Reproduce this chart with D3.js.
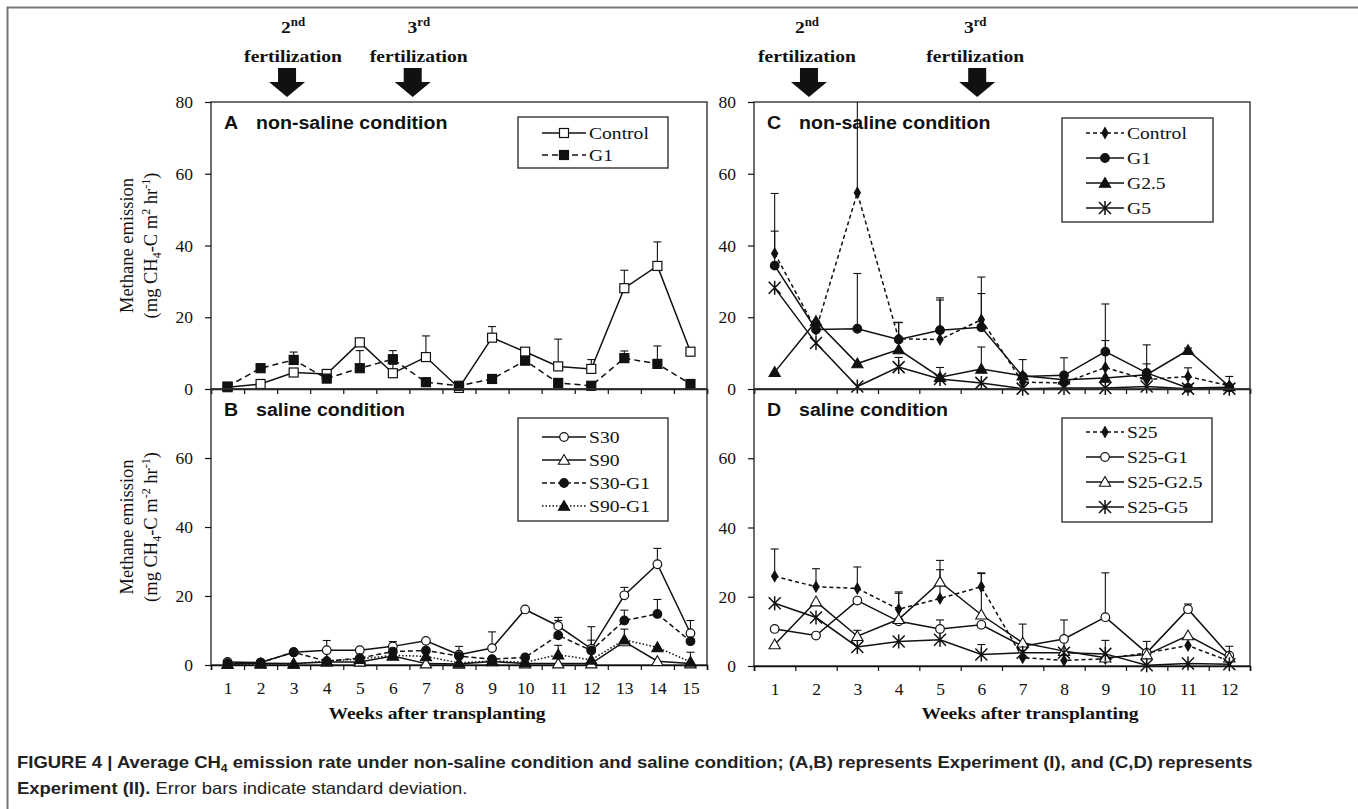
<!DOCTYPE html>
<html>
<head>
<meta charset="utf-8">
<script src="https://cdn.jsdelivr.net/npm/d3@7"></script>
<style>
  body { margin: 0; background: #fff; }
  svg { display: block; }
</style>
</head>
<body>
<svg id="fig" width="1358" height="809"></svg>
<script>
// ---- data ----
const weeksExp1 = [1, 2, 3, 4, 5, 6, 7, 8, 9, 10, 11, 12, 13, 14, 15];
const weeksExp2 = [1, 2, 3, 4, 5, 6, 7, 8, 9, 10, 11, 12];
const yTicksTop = [0, 20, 40, 60, 80];
const yTicksBottom = [0, 20, 40, 60];

// panel A, experiment I, non-saline
const aControl   = [0.5, 1.4, 4.6, 4.2, 13.0, 4.4, 8.9, 0.3, 14.3, 10.4, 6.3, 5.6, 28.1, 34.3, 10.4];
const aControlSd = [0, 0, 0.6, 0.5, 0.9, 2.5, 5.9, 0, 3.1, 0.5, 7.6, 2.6, 5.0, 6.7, 0.5];
const aG1        = [0.7, 5.8, 8.1, 2.9, 5.8, 8.3, 1.9, 0.9, 2.8, 7.9, 1.7, 0.9, 8.6, 7.0, 1.4];
const aG1Sd      = [0, 0, 2.2, 0, 4.9, 2.4, 0, 0, 0, 0.5, 0, 0, 2.0, 5.0, 0];

// panel B, experiment I, saline
const bS30     = [0.9, 0.7, 3.7, 4.3, 4.3, 5.4, 7.0, 3.0, 4.9, 16.1, 11.3, 4.7, 20.2, 29.2, 9.2];
const bS30Sd   = [0, 0, 0, 2.8, 0, 1.4, 0.4, 2.4, 4.7, 0.3, 2.5, 6.4, 2.3, 4.6, 3.7];
const bS90     = [0.3, 0.5, 0.4, 0.9, 0.9, 2.6, 0.4, 0.3, 1.0, 0.4, 0.4, 0.4, 6.8, 1.1, 0.4];
const bS90Sd   = [0, 0, 0, 0, 0, 0.6, 0, 0, 0, 0, 0, 0, 0, 0, 0];
const bS30G1   = [0.5, 0.7, 3.7, 1.1, 2.0, 3.9, 4.2, 2.6, 1.7, 2.2, 8.6, 4.2, 12.9, 14.8, 6.9];
const bS30G1Sd = [0, 0, 0, 0, 0, 0.8, 0.5, 0, 0, 0, 4.3, 3.0, 3.0, 4.2, 2.5];
const bS90G1   = [0.2, 0.3, 0.3, 1.2, 1.7, 2.8, 2.5, 0.6, 1.2, 0.8, 3.0, 1.5, 7.3, 5.1, 0.9];
const bS90G1Sd = [0, 0, 0, 0, 0, 0, 0, 0, 0, 0, 2.7, 0, 3.1, 0, 2.8];

// panel C, experiment II, non-saline
const cControl   = [37.8, 16.5, 54.7, 14.0, 13.8, 19.3, 1.9, 1.7, 6.0, 2.6, 3.5, 0.9];
const cControlSd = [16.7, 1.5, 30.0, 4.5, 11.0, 11.9, 0, 0, 7.5, 4.4, 2.4, 2.6];
const cG1        = [34.4, 16.6, 16.8, 13.8, 16.4, 17.2, 3.5, 3.8, 10.4, 4.5, 0.3, 0.5];
const cG1Sd      = [9.6, 2.3, 15.4, 4.8, 9.0, 9.4, 4.7, 4.9, 13.3, 7.8, 0, 0];
const cG25       = [4.7, 18.9, 7.1, 11.0, 3.3, 5.6, 3.7, 2.6, 3.1, 4.0, 10.8, 0.7];
const cG25Sd     = [0, 0, 0, 0, 0, 6.1, 0, 0, 0, 0, 0.6, 0];
const cG5        = [28.2, 12.8, 0.7, 6.1, 2.8, 1.7, 0.1, 0.3, 0.3, 0.7, 0.1, 0.1];
const cG5Sd      = [0, 0, 0, 2.7, 3.2, 0, 0, 0, 0, 0, 0, 0];

// panel D, experiment II, saline
const dS25      = [25.9, 22.9, 22.4, 16.4, 19.5, 22.9, 2.4, 1.6, 2.1, 3.8, 5.9, 1.4];
const dS25Sd    = [7.9, 5.2, 6.2, 5.0, 8.3, 4.0, 0, 0, 0, 3.3, 0, 0];
const dS25G1    = [10.7, 8.8, 18.9, 12.9, 10.7, 11.9, 5.7, 7.8, 14.1, 3.8, 16.4, 3.0];
const dS25G1Sd  = [0, 0, 0, 8.1, 2.6, 0, 6.4, 5.5, 12.8, 0, 1.5, 2.7];
const dS25G25   = [6.2, 18.6, 8.6, 13.5, 24.3, 14.8, 6.7, 4.3, 2.4, 3.3, 8.8, 2.4];
const dS25G25Sd = [0, 0, 1.7, 0, 6.2, 11.9, 0, 4.0, 5.0, 0, 0, 0];
const dS25G5    = [18.1, 14.0, 5.5, 7.1, 7.6, 3.3, 3.8, 3.8, 3.5, 0.2, 0.7, 0.5];
const dS25G5Sd  = [0, 0, 0, 0, 0, 2.9, 0, 0, 0, 3.2, 0, 0];

// fertilization arrows (week position) and their labels
const fertWeeksExp1 = [2.8, 6.6];
const fertWeeksExp2 = [1.83, 5.9];
const fertOrdinals = [["2", "nd"], ["3", "rd"]];

// ---- drawing ----
const serif = "'Liberation Serif','Times New Roman',serif";
const sans = "'Liberation Sans',Arial,sans-serif";
const ink = "#111";
const stretch = 1.12; // the source figure is a little wider than tall in its lettering

const svg = d3.select("#fig");
const defs = svg.append("defs");

// text placed at (x, y) and widened horizontally about that point
function wideText(parent, x, y, family, size, weight) {
  return parent.append("text")
    .attr("transform", `translate(${x},${y}) scale(${stretch},1)`)
    .attr("font-family", family)
    .attr("font-size", size)
    .attr("font-weight", weight || "normal")
    .attr("fill", ink);
}

// outer figure frame (only top and left edges fall inside the page)
svg.append("rect")
  .attr("x", 7.5).attr("y", 7.5)
  .attr("width", 1380).attr("height", 830)
  .attr("fill", "none")
  .attr("stroke", "#777")
  .attr("stroke-width", 2);

const panels = [
  {
    id: "A", label: "non-saline condition", weeks: weeksExp1,
    left: 211, right: 707, top: 102, bottom: 389,
    yTicks: yTicksTop, xLabels: false, yTitle: "2", fertShift: 6,
    legend: { x: 518, y: 117, w: 150, h: 51, row0: 133, step: 22, lx: 542, lw: 44 },
    series: [
      { name: "Control", values: aControl, sd: aControlSd, marker: "squareOpen", dash: null },
      { name: "G1", values: aG1, sd: aG1Sd, marker: "squareFilled", dash: "6,4" }
    ]
  },
  {
    id: "B", label: "saline condition", weeks: weeksExp1,
    left: 211, right: 707, top: 389, bottom: 665,
    yTicks: yTicksBottom, xLabels: true, yTitle: "-2", xTitleX: 437,
    legend: { x: 518, y: 418, w: 150, h: 103, row0: 437, step: 23, lx: 542, lw: 44 },
    series: [
      { name: "S30", values: bS30, sd: bS30Sd, marker: "circleOpen", dash: null },
      { name: "S90", values: bS90, sd: bS90Sd, marker: "triOpen", dash: null },
      { name: "S30-G1", values: bS30G1, sd: bS30G1Sd, marker: "circleFilled", dash: "5,3" },
      { name: "S90-G1", values: bS90G1, sd: bS90G1Sd, marker: "triFilled", dash: "1.5,2" }
    ]
  },
  {
    id: "C", label: "non-saline condition", weeks: weeksExp2,
    left: 754, right: 1250, top: 102, bottom: 389,
    yTicks: yTicksTop, xLabels: false, yTitle: null, fertShift: -2,
    legend: { x: 1062, y: 118, w: 151, h: 104, row0: 133, step: 25, lx: 1086, lw: 38 },
    series: [
      { name: "Control", values: cControl, sd: cControlSd, marker: "diamond", dash: "4,3" },
      { name: "G1", values: cG1, sd: cG1Sd, marker: "circleFilled", dash: null },
      { name: "G2.5", values: cG25, sd: cG25Sd, marker: "triFilled", dash: null },
      { name: "G5", values: cG5, sd: cG5Sd, marker: "star", dash: null }
    ]
  },
  {
    id: "D", label: "saline condition", weeks: weeksExp2,
    left: 754, right: 1250, top: 389, bottom: 666,
    yTicks: yTicksBottom, xLabels: true, yTitle: null, xTitleX: 1030,
    legend: { x: 1062, y: 418, w: 150, h: 104, row0: 432, step: 25, lx: 1086, lw: 38 },
    series: [
      { name: "S25", values: dS25, sd: dS25Sd, marker: "diamond", dash: "4,3" },
      { name: "S25-G1", values: dS25G1, sd: dS25G1Sd, marker: "circleOpen", dash: null },
      { name: "S25-G2.5", values: dS25G25, sd: dS25G25Sd, marker: "triOpen", dash: null },
      { name: "S25-G5", values: dS25G5, sd: dS25G5Sd, marker: "star", dash: null }
    ]
  }
];

function drawMarker(g, type, cx, cy) {
  const filled = !/Open/.test(type);
  if (type === "squareOpen" || type === "squareFilled") {
    g.append("rect")
      .attr("x", cx - 4.5).attr("y", cy - 4.5)
      .attr("width", 9).attr("height", 9)
      .attr("fill", filled ? ink : "#fff")
      .attr("stroke", ink).attr("stroke-width", 1.2);
  } else if (type === "circleOpen" || type === "circleFilled") {
    g.append("circle")
      .attr("cx", cx).attr("cy", cy).attr("r", 4.3)
      .attr("fill", filled ? ink : "#fff")
      .attr("stroke", ink).attr("stroke-width", 1.2);
  } else if (type === "triOpen" || type === "triFilled") {
    g.append("path")
      .attr("d", d3.symbol(d3.symbolTriangle, 55)())
      .attr("transform", `translate(${cx},${cy + 1})`)
      .attr("fill", filled ? ink : "#fff")
      .attr("stroke", ink).attr("stroke-width", 1.1);
  } else if (type === "diamond") {
    g.append("path")
      .attr("d", d3.symbol(d3.symbolDiamond, 48)())
      .attr("transform", `translate(${cx},${cy})`)
      .attr("fill", ink);
  } else if (type === "star") {
    const r = 6;
    g.append("path")
      .attr("d", `M${cx - r},${cy - r}L${cx + r},${cy + r}M${cx - r},${cy + r}L${cx + r},${cy - r}M${cx},${cy - r - 1}L${cx},${cy + r + 1}`)
      .attr("fill", "none")
      .attr("stroke", ink).attr("stroke-width", 1.5);
  }
}

panels.forEach(function (p) {
  const nWeeks = p.weeks.length;
  const x = d3.scaleLinear().domain([0.5, nWeeks + 0.5]).range([p.left, p.right]);
  const y = d3.scaleLinear().domain([0, 80]).range([p.bottom, p.top]);
  const g = svg.append("g").attr("class", "panel-" + p.id);

  const clipId = "clip" + p.id;
  defs.append("clipPath").attr("id", clipId)
    .append("rect")
    .attr("x", p.left - 20).attr("y", p.top)
    .attr("width", p.right - p.left + 40)
    .attr("height", p.bottom - p.top + 30);

  // plot frame
  g.append("rect")
    .attr("x", p.left).attr("y", p.top)
    .attr("width", p.right - p.left).attr("height", p.bottom - p.top)
    .attr("fill", "none").attr("stroke", "#333").attr("stroke-width", 1.4);

  // y axis
  const yAxis = g.append("g")
    .attr("transform", `translate(${p.left},0)`)
    .call(d3.axisLeft(y).tickValues(p.yTicks).tickSize(6).tickPadding(12).tickFormat(d3.format("d")));
  yAxis.select(".domain").remove();
  yAxis.selectAll("line").attr("stroke", ink).attr("stroke-width", 1.2);
  yAxis.selectAll("text").attr("font-family", serif).attr("font-size", 17.5).attr("fill", ink);

  // x axis: tick marks between weeks
  const bounds = p.weeks.map(function (w) { return w - 0.5; }).concat([nWeeks + 0.5]);
  const xAxis = g.append("g")
    .attr("transform", `translate(0,${p.bottom})`)
    .call(d3.axisBottom(x).tickValues(bounds).tickSize(5).tickFormat(""));
  xAxis.select(".domain").attr("stroke", ink).attr("stroke-width", 1.6);
  xAxis.selectAll("line").attr("stroke", ink).attr("stroke-width", 1.2);

  if (p.xLabels) {
    const xLab = g.append("g")
      .attr("transform", `translate(0,${p.bottom})`)
      .call(d3.axisBottom(x).tickValues(p.weeks).tickSize(0).tickPadding(17).tickFormat(d3.format("d")));
    xLab.select(".domain").remove();
    xLab.selectAll("text").attr("font-family", serif).attr("font-size", 17.5).attr("fill", ink);
  }

  // panel letter and condition
  wideText(g, p.left + 13, p.top + 27, sans, 17.5, "bold").text(p.id);
  wideText(g, p.left + 45, p.top + 27, sans, 17.5, "bold").text(p.label);

  const line = d3.line()
    .x(function (d, i) { return x(p.weeks[i]); })
    .y(function (d) { return y(d); });

  const dataG = g.append("g");

  p.series.forEach(function (s) {
    dataG.append("path")
      .datum(s.values)
      .attr("d", line)
      .attr("fill", "none")
      .attr("stroke", ink)
      .attr("stroke-width", 1.5)
      .attr("stroke-dasharray", s.dash);
  });

  const errG = dataG.append("g").attr("clip-path", `url(#${clipId})`);
  p.series.forEach(function (s) {
    s.values.forEach(function (v, i) {
      if (!s.sd[i]) return;
      const cx = x(p.weeks[i]);
      const yTop = y(v + s.sd[i]);
      errG.append("line")
        .attr("x1", cx).attr("x2", cx)
        .attr("y1", y(v)).attr("y2", yTop)
        .attr("stroke", ink).attr("stroke-width", 1.1);
      errG.append("line")
        .attr("x1", cx - 4).attr("x2", cx + 4)
        .attr("y1", yTop).attr("y2", yTop)
        .attr("stroke", ink).attr("stroke-width", 1.1);
    });
  });

  p.series.forEach(function (s) {
    s.values.forEach(function (v, i) {
      drawMarker(dataG, s.marker, x(p.weeks[i]), y(v));
    });
  });

  // legend
  const L = p.legend;
  const lg = g.append("g");
  lg.append("rect")
    .attr("x", L.x).attr("y", L.y).attr("width", L.w).attr("height", L.h)
    .attr("fill", "#fff").attr("stroke", "#333").attr("stroke-width", 1.4);
  p.series.forEach(function (s, i) {
    const ry = L.row0 + i * L.step;
    lg.append("line")
      .attr("x1", L.lx).attr("x2", L.lx + L.lw)
      .attr("y1", ry).attr("y2", ry)
      .attr("stroke", ink).attr("stroke-width", 1.5)
      .attr("stroke-dasharray", s.dash);
    drawMarker(lg, s.marker, L.lx + L.lw / 2, ry);
    wideText(lg, L.lx + L.lw + 3, ry + 6, serif, 17.5).text(s.name);
  });

  // y axis title (experiment I only)
  if (p.yTitle) {
    const cy = (p.top + p.bottom) / 2;
    svg.append("text")
      .attr("transform", `translate(133,${cy}) rotate(-90)`)
      .attr("text-anchor", "middle")
      .attr("font-family", serif).attr("font-size", 18.5).attr("fill", ink)
      .text("Methane emission");
    const t2 = svg.append("text")
      .attr("transform", `translate(157,${cy}) rotate(-90)`)
      .attr("text-anchor", "middle")
      .attr("font-family", serif).attr("font-size", 18.5).attr("fill", ink);
    t2.append("tspan").text("(mg CH");
    t2.append("tspan").attr("dy", 4).attr("font-size", 12).text("4");
    t2.append("tspan").attr("dy", -4).text("-C m");
    t2.append("tspan").attr("dy", -7).attr("font-size", 12).text(p.yTitle);
    t2.append("tspan").attr("dy", 7).text(" hr");
    t2.append("tspan").attr("dy", -7).attr("font-size", 12).text("-1");
    t2.append("tspan").attr("dy", 7).text(")");
  }

  // x axis title and fertilization arrows
  if (p.xLabels) {
    wideText(g, p.xTitleX, 719, serif, 17.5, "bold")
      .attr("text-anchor", "middle")
      .text("Weeks after transplanting");
  } else {
    const fert = p.id === "A" ? fertWeeksExp1 : fertWeeksExp2;
    fert.forEach(function (w, i) {
      const cx = x(w);
      g.append("path")
        .attr("d", `M${cx - 9},68L${cx + 9},68L${cx + 9},82L${cx + 18},82L${cx},97L${cx - 18},82L${cx - 9},82Z`)
        .attr("fill", ink);
      const t = wideText(g, cx + p.fertShift, 33, serif, 17.5, "bold")
        .attr("text-anchor", "middle");
      t.append("tspan").text(fertOrdinals[i][0]);
      t.append("tspan").attr("dy", -7).attr("font-size", 11.5).text(fertOrdinals[i][1]);
      wideText(g, cx + p.fertShift, 62, serif, 17.5, "bold")
        .attr("text-anchor", "middle")
        .text("fertilization");
    });
  }
});

// caption
const cap1 = wideText(svg, 17, 768, sans, 16.5, "bold").attr("fill", "#222");
cap1.append("tspan").text("FIGURE 4 | Average CH");
cap1.append("tspan").attr("dy", 4).attr("font-size", 11).text("4");
cap1.append("tspan").attr("dy", -4)
  .text(" emission rate under non-saline condition and saline condition; (A,B) represents Experiment (I), and (C,D) represents");

const cap2 = wideText(svg, 17, 794, sans, 16.5).attr("fill", "#222");
cap2.append("tspan").attr("font-weight", "bold").text("Experiment (II).");
cap2.append("tspan").text(" Error bars indicate standard deviation.");
</script>
</body>
</html>
